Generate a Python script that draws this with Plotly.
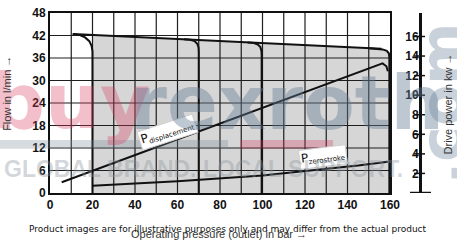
import plotly.graph_objects as go
import numpy as np

# ---------------- data ----------------
x_grid = [0, 10, 20, 30, 40, 50, 60, 70, 80, 90, 100, 110, 120, 130, 140, 150, 160]
x_labels = ["0", "", "20", "", "40", "", "60", "", "80", "", "100", "", "120", "", "140", "", "160"]
flow_ticks = [0, 6, 12, 18, 24, 30, 36, 42, 48]
power_ticks = [2, 4, 6, 8, 10, 12, 14, 16]

top_x = [10.7, 156.0]
top_y = [42.4, 38.45]

c20_x = [10.7, 14, 16.5, 18.5, 19.6, 20, 20]
c20_y = [42.4, 42.1, 41.5, 40.5, 39.2, 37.8, 0]
c70_x = [63, 66, 68, 69.3, 69.9, 70, 70]
c70_y = [41.0, 40.85, 40.5, 39.8, 38.8, 37.5, 0]
c100_x = [93, 96, 97.8, 99, 99.5, 99.6, 99.6]
c100_y = [40.15, 40.0, 39.6, 38.9, 37.9, 36.8, 0]
c160_x = [150, 154, 156.5, 158.5, 159.5, 159.7, 159.7]
c160_y = [38.6, 38.5, 38.3, 37.9, 37.2, 36.0, 0]

pdisp_x = [5.5, 156.5, 158.3, 159.0]
pdisp_y = [1.1, 13.25, 12.95, 12.45]
pzero_x = [20, 60, 100, 125, 145, 159]
pzero_y = [0.75, 1.2, 1.8, 2.35, 2.8, 3.2]

W, H = 457, 241
ML, MR, MT, MB = 50, 37, 6, 48
PW = W - ML - MR
PH = H - MT - MB
XDOM = 340 / PW


def fx(px):
    return (px - ML) / PW


def fy(py):
    return (H - MB - py) / PH


fig = go.Figure()

# grey region under the flow curve from 20 bar
fill_x = [20, 20, c160_x[0]] + c160_x[1:]
fill_y = [0, float(np.interp(20, top_x, top_y)), c160_y[0]] + c160_y[1:]
fig.add_trace(go.Scatter(x=fill_x, y=fill_y, fill="toself", mode="none",
                         fillcolor="rgba(0,0,0,0.16)", hoverinfo="skip"))

# grid as one trace (segments separated by None) on the data scales
gx, gy = [], []
for v in x_grid[1:-1]:
    gx += [v, v, None]
    gy += [flow_ticks[0], flow_ticks[-1], None]
for v in flow_ticks[1:-1]:
    gx += [x_grid[0], x_grid[-1], None]
    gy += [v, v, None]
fig.add_trace(go.Scatter(x=gx, y=gy, mode="lines", connectgaps=False,
                         line=dict(color="#1e1e1e", width=1.2), hoverinfo="skip"))

line = dict(color="#111", width=2)
fig.add_trace(go.Scatter(x=top_x, y=top_y, mode="lines", line=line))
for cx, cy in [(c20_x, c20_y), (c70_x, c70_y), (c100_x, c100_y), (c160_x, c160_y)]:
    fig.add_trace(go.Scatter(x=cx, y=cy, mode="lines", line=line))

fig.add_trace(go.Scatter(x=pdisp_x, y=pdisp_y, mode="lines", line=line, yaxis="y2"))
fig.add_trace(go.Scatter(x=pzero_x, y=pzero_y, mode="lines", line=line, yaxis="y2"))

tickfont = dict(family="Liberation Sans", size=12, color="#111", weight="bold")

fig.update_layout(
    width=W, height=H, margin=dict(l=ML, r=MR, t=MT, b=MB),
    paper_bgcolor="white", plot_bgcolor="white", showlegend=False,
    xaxis=dict(domain=[0, XDOM], range=[0, 160], tickmode="array",
               tickvals=x_grid, ticktext=x_labels, showgrid=False,
               showline=True, linecolor="#111", linewidth=2, mirror=True,
               ticks="", tickfont=tickfont, zeroline=False),
    yaxis=dict(range=[0, 48], tickmode="array", tickvals=flow_ticks, showgrid=False,
               showline=True, linecolor="#111",
               linewidth=2, mirror=True, ticks="", tickfont=tickfont,
               zeroline=False),
    yaxis2=dict(range=[0, 18.4], tickmode="array", tickvals=power_ticks,
                overlaying="y", anchor="free", position=1, side="right",
                showgrid=False, showline=True, linecolor="#111", linewidth=2.5,
                ticks="", ticklabelposition="inside", tickfont=tickfont,
                zeroline=False),
)

# right axis crossing ticks and foot
for v in power_ticks:
    fig.add_shape(type="line", xref="paper", yref="y2", x0=fx(414), x1=fx(425),
                  y0=v, y1=v, line=dict(color="#111", width=1.5))
fig.add_shape(type="line", xref="paper", yref="y2", x0=fx(410), x1=fx(431),
              y0=0, y1=0, line=dict(color="#111", width=2.5))

# curve labels
fig.add_annotation(x=55.5, y=16.2, xref="x", yref="y",
                   text="P<sub><span style='font-size:7px'>displacement</span></sub>",
                   showarrow=False, textangle=-18, bgcolor="white",
                   bordercolor="#cfcfcf", borderwidth=1, borderpad=1,
                   font=dict(family="DejaVu Sans", size=12, color="#111"))
fig.add_annotation(x=128.5, y=9.5, xref="x", yref="y",
                   text="P<sub><span style='font-size:7px'>zerostroke</span></sub>",
                   showarrow=False, textangle=-7, bgcolor="white",
                   bordercolor="#cfcfcf", borderwidth=1, borderpad=1,
                   font=dict(family="DejaVu Sans", size=12, color="#111"))

# watermark
fig.add_shape(type="rect", xref="paper", yref="paper", x0=fx(0), x1=fx(228),
              y0=fy(147), y1=fy(138), line_width=0,
              fillcolor="rgba(120,135,150,0.3)", layer="above")
fig.add_shape(type="rect", xref="paper", yref="paper", x0=fx(240), x1=fx(333),
              y0=fy(147), y1=fy(138), line_width=0,
              fillcolor="rgba(215,60,95,0.3)", layer="above")


def ann(px, py, text, font, angle=0, xa="center", ya="middle"):
    fig.add_annotation(x=fx(px), y=fy(py), xref="paper", yref="paper", text=text,
                       showarrow=False, textangle=angle, xanchor=xa, yanchor=ya,
                       font=font)


ann(-12, 98, "buy", dict(family="DejaVu Sans", size=77,
                         color="rgba(215,60,95,0.33)", weight="bold"), xa="left")
ann(128, 100, "rexroth", dict(family="DejaVu Sans", size=75,
                              color="rgba(100,125,150,0.42)", weight="bold"), xa="left")
ann(442, 100, ".com", dict(family="DejaVu Sans", size=60,
                           color="rgba(100,125,150,0.35)", weight="bold"), angle=-90)
ann(2, 168.5, "GLOBAL BRAND. LOCAL SUPPORT.",
    dict(family="Liberation Sans", size=23, color="rgba(140,150,160,0.38)",
         weight="bold"), xa="left")

# axis titles
ann(7, 90, "Flow in l/min →", dict(family="Liberation Sans", size=11, color="#333"),
    angle=-90)
ann(448, 100, "Drive power in kw →",
    dict(family="Liberation Sans", size=11, color="#333"), angle=-90)
ann(219, 236, "Operating pressure (outlet) in bar →",
    dict(family="Liberation Sans", size=11, color="#333"))
ann(228, 230, "Product images are for illustrative purposes only and may differ from the actual product",
    dict(family="DejaVu Sans", size=9, color="#111"))

fig.write_html("out.html")
